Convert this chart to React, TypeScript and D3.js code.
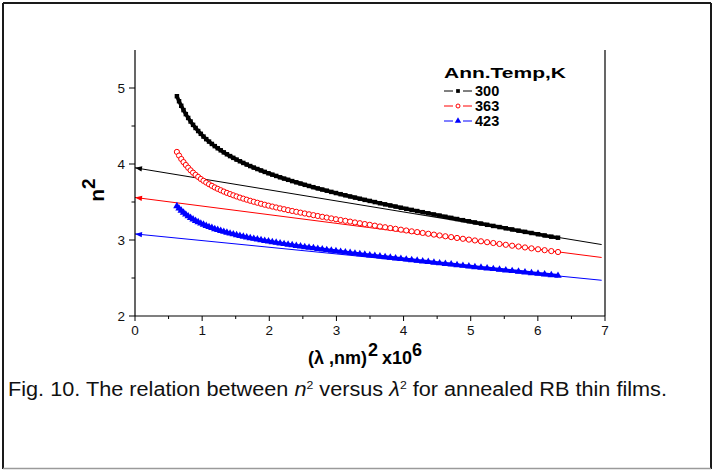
import React, { useEffect } from "react";
import * as d3 from "d3";

// wavelength (nm); x axis is lambda^2 in units of 10^6 nm^2
const wavelengths = [
  790, 810, 830, 850, 870, 890, 910, 930, 950, 970, 990, 1010, 1030, 1050, 1070, 1090, 1110, 1130, 1150, 1170,
  1190, 1210, 1230, 1250, 1270, 1290, 1310, 1330, 1350, 1370, 1390, 1410, 1430, 1450, 1470, 1490, 1510, 1530, 1550, 1570,
  1590, 1610, 1630, 1650, 1670, 1690, 1710, 1730, 1750, 1770, 1790, 1810, 1830, 1850, 1870, 1890, 1910, 1930, 1950, 1970,
  1990, 2010, 2030, 2050, 2070, 2090, 2110, 2130, 2150, 2170, 2190, 2210, 2230, 2250, 2270, 2290, 2310, 2330, 2350, 2370,
  2390, 2410, 2430, 2450, 2470, 2490, 2510,
];

const n2_300 = [
  4.892, 4.826, 4.766, 4.709, 4.656, 4.606, 4.559, 4.515, 4.474, 4.434, 4.397, 4.361, 4.327, 4.295, 4.264, 4.235, 4.207, 4.180, 4.153, 4.128,
  4.104, 4.081, 4.058, 4.036, 4.014, 3.993, 3.973, 3.953, 3.934, 3.915, 3.896, 3.878, 3.860, 3.843, 3.825, 3.808, 3.792, 3.775, 3.759, 3.743,
  3.726, 3.711, 3.695, 3.679, 3.664, 3.649, 3.633, 3.618, 3.603, 3.588, 3.573, 3.558, 3.543, 3.528, 3.514, 3.499, 3.484, 3.469, 3.455, 3.440,
  3.425, 3.410, 3.396, 3.381, 3.366, 3.351, 3.336, 3.321, 3.306, 3.291, 3.276, 3.261, 3.246, 3.231, 3.216, 3.200, 3.185, 3.170, 3.154, 3.139,
  3.123, 3.107, 3.092, 3.076, 3.060, 3.044, 3.030,
];

const n2_363 = [
  4.159, 4.111, 4.066, 4.025, 3.987, 3.951, 3.917, 3.886, 3.857, 3.830, 3.803, 3.779, 3.756, 3.734, 3.713, 3.692, 3.673, 3.655, 3.637, 3.620,
  3.604, 3.588, 3.573, 3.558, 3.544, 3.530, 3.516, 3.503, 3.490, 3.477, 3.464, 3.452, 3.440, 3.428, 3.416, 3.405, 3.393, 3.382, 3.371, 3.360,
  3.349, 3.338, 3.327, 3.316, 3.305, 3.295, 3.284, 3.273, 3.263, 3.252, 3.242, 3.231, 3.221, 3.210, 3.200, 3.189, 3.178, 3.168, 3.157, 3.147,
  3.136, 3.125, 3.114, 3.104, 3.093, 3.082, 3.071, 3.060, 3.049, 3.038, 3.027, 3.016, 3.005, 2.994, 2.983, 2.971, 2.960, 2.948, 2.937, 2.925,
  2.914, 2.902, 2.890, 2.878, 2.866, 2.854, 2.842,
];

const n2_423 = [
  3.446, 3.415, 3.387, 3.361, 3.336, 3.313, 3.292, 3.272, 3.253, 3.235, 3.218, 3.202, 3.187, 3.172, 3.159, 3.145, 3.133, 3.120, 3.109, 3.097,
  3.086, 3.076, 3.065, 3.055, 3.045, 3.036, 3.026, 3.017, 3.008, 2.999, 2.990, 2.982, 2.973, 2.965, 2.957, 2.948, 2.940, 2.932, 2.924, 2.916,
  2.908, 2.901, 2.893, 2.885, 2.877, 2.869, 2.861, 2.854, 2.846, 2.838, 2.830, 2.823, 2.815, 2.807, 2.799, 2.791, 2.784, 2.776, 2.768, 2.760,
  2.752, 2.744, 2.736, 2.728, 2.720, 2.712, 2.703, 2.695, 2.687, 2.679, 2.671, 2.662, 2.653, 2.645, 2.636, 2.628, 2.619, 2.610, 2.602, 2.593,
  2.584, 2.575, 2.566, 2.557, 2.548, 2.539, 2.530,
];

const seriesNames = ["300", "363", "423"];
const seriesColors = ["#000000", "#ff0000", "#0000ff"];
// linear extrapolation lines: value at lambda^2 = 0 and at the right end
const fitIntercepts = [3.95, 3.56, 3.08];
const fitEndValues = [2.94, 2.77, 2.47];
const fitXRange = [0, 6.95];

const xTicks = [0, 1, 2, 3, 4, 5, 6, 7];
const xMinorTicks = [0.5, 1.5, 2.5, 3.5, 4.5, 5.5, 6.5];
const yTicks = [2, 3, 4, 5];
const yMinorTicks = [2.5, 3.5, 4.5];

const FONT = "'Liberation Sans', Arial, sans-serif";

export default function App() {
  useEffect(() => {
    document.body.style.margin = "0";
  }, []);

  const x = d3.scaleLinear().domain([0, 7]).range([135, 605]);
  const y = d3.scaleLinear().domain([2, 5.5]).range([316, 50]);
  const xs = wavelengths.map((l) => (l * l) / 1e6);
  const seriesValues = [n2_300, n2_363, n2_423];

  const line = d3
    .line<number>()
    .x((_, i) => x(xs[i]))
    .y((v) => y(v))
    .curve(d3.curveLinear);

  const sq = d3.symbol().type(d3.symbolSquare).size(20)() as string;
  const tri = d3.symbol().type(d3.symbolTriangle).size(24)() as string;
  const sqLeg = d3.symbol().type(d3.symbolSquare).size(14)() as string;
  const triLeg = d3.symbol().type(d3.symbolTriangle).size(18)() as string;

  const renderMarker = (k: number, cx: number, cy: number, key: string, legend = false) => {
    const c = seriesColors[k];
    if (k === 0)
      return <path key={key} d={legend ? sqLeg : sq} transform={`translate(${cx},${cy})`} fill={c} />;
    if (k === 1)
      return (
        <circle key={key} cx={cx} cy={cy} r={legend ? 2 : 2.6} fill="#fff" stroke={c} strokeWidth={1} />
      );
    return <path key={key} d={legend ? triLeg : tri} transform={`translate(${cx},${cy})`} fill={c} />;
  };

  const legendX = 444;
  const legendY = [91, 106, 121];

  return (
    <svg
      width={716}
      height={470}
      style={{ position: "absolute", left: 0, top: 0, background: "#fff" }}
      fontFamily={FONT}
    >
      <rect x={0} y={0} width={716} height={470} fill="#fff" />
      {/* outer frame */}
      <line x1={3} y1={3} x2={711} y2={3} stroke="#1a1a1a" strokeWidth={2} />
      <line x1={3} y1={3} x2={3} y2={469} stroke="#1a1a1a" strokeWidth={2} />
      <line x1={711} y1={3} x2={711} y2={469} stroke="#1a1a1a" strokeWidth={2} />
      <line x1={3} y1={468.5} x2={711} y2={468.5} stroke="#9a9a9a" strokeWidth={1.5} />

      {/* fit lines with arrows */}
      {fitIntercepts.map((b, k) => {
        const x0 = x(fitXRange[0]);
        const y0 = y(b);
        const x1 = x(fitXRange[1]);
        const y1 = y(fitEndValues[k]);
        const ang = Math.atan2(y1 - y0, x1 - x0);
        const L = 7,
          W = 2.6;
        const p1 = [x0 + L * Math.cos(ang) - W * Math.sin(ang), y0 + L * Math.sin(ang) + W * Math.cos(ang)];
        const p2 = [x0 + L * Math.cos(ang) + W * Math.sin(ang), y0 + L * Math.sin(ang) - W * Math.cos(ang)];
        return (
          <g key={`fit${k}`}>
            <line x1={x0} y1={y0} x2={x1} y2={y1} stroke={seriesColors[k]} strokeWidth={1} />
            <path d={`M${x0},${y0}L${p1[0]},${p1[1]}L${p2[0]},${p2[1]}Z`} fill={seriesColors[k]} />
          </g>
        );
      })}

      {/* data series */}
      {seriesValues.map((vals, k) => (
        <g key={`s${k}`}>
          <path
            d={line(vals) as string}
            fill="none"
            stroke={seriesColors[k]}
            strokeWidth={k === 1 ? 1 : 3.6}
            strokeLinejoin="round"
          />
          {vals.map((v, i) => renderMarker(k, x(xs[i]), y(v), `m${k}-${i}`))}
        </g>
      ))}

      {/* axes */}
      <line x1={x(0)} y1={y(2)} x2={x(7)} y2={y(2)} stroke="#000" strokeWidth={1.2} />
      <line x1={x(0)} y1={y(2)} x2={x(0)} y2={y(5.5)} stroke="#000" strokeWidth={1.2} />
      <line x1={x(7)} y1={y(2)} x2={x(7)} y2={y(5.5)} stroke="#000" strokeWidth={1.2} />
      {xTicks.map((t) => (
        <g key={`xt${t}`}>
          <line x1={x(t)} y1={y(2)} x2={x(t)} y2={y(2) + 5} stroke="#000" strokeWidth={1} />
          <text x={x(t)} y={y(2) + 19} textAnchor="middle" fontSize={13.5} fill="#111">
            {t}
          </text>
        </g>
      ))}
      {xMinorTicks.map((t) => (
        <line key={`xm${t}`} x1={x(t)} y1={y(2)} x2={x(t)} y2={y(2) + 3} stroke="#000" strokeWidth={1} />
      ))}
      {yTicks.map((t) => (
        <g key={`yt${t}`}>
          <line x1={x(0) - 6} y1={y(t)} x2={x(0)} y2={y(t)} stroke="#000" strokeWidth={1} />
          <text x={x(0) - 10} y={y(t) + 5} textAnchor="end" fontSize={13.5} fill="#111">
            {t}
          </text>
        </g>
      ))}
      {yMinorTicks.map((t) => (
        <line key={`ym${t}`} x1={x(0) - 3.5} y1={y(t)} x2={x(0)} y2={y(t)} stroke="#000" strokeWidth={1} />
      ))}

      {/* axis titles */}
      <text transform="translate(104,190) rotate(-90)" textAnchor="middle" fontWeight="bold" fontSize={21}>
        n<tspan dy={-9} fontSize={19}>2</tspan>
      </text>
      <text x={308} y={364} fontWeight="bold" fontSize={18}>
        (λ ,nm)<tspan dx={1} dy={-8}>2</tspan>
        <tspan dx={4} dy={8}>x10</tspan>
        <tspan dy={-8}>6</tspan>
      </text>

      {/* legend */}
      <text x={legendX} y={78} fontWeight="bold" fontSize={15.5} textLength={122} lengthAdjust="spacingAndGlyphs">
        Ann.Temp,K
      </text>
      {seriesNames.map((name, k) => (
        <g key={`lg${k}`}>
          <line x1={legendX} y1={legendY[k]} x2={legendX + 9} y2={legendY[k]} stroke={seriesColors[k]} strokeWidth={1} />
          <line x1={legendX + 19} y1={legendY[k]} x2={legendX + 28} y2={legendY[k]} stroke={seriesColors[k]} strokeWidth={1} />
          {renderMarker(k, legendX + 14, legendY[k], `lm${k}`, true)}
          <text x={legendX + 31} y={legendY[k] + 5} fontWeight="bold" fontSize={14.5}>
            {name}
          </text>
        </g>
      ))}

      {/* caption */}
      <text
        x={8}
        y={396}
        fontSize={19.5}
        fontFamily="'Liberation Sans Narrow', 'Arial Narrow', 'Liberation Sans', sans-serif"
        textLength={659}
        lengthAdjust="spacingAndGlyphs"
        fill="#111"
      >
        Fig. 10. The relation between <tspan fontStyle="italic">n</tspan>
        <tspan dy={-7} fontSize={11}>2</tspan>
        <tspan dy={7}> versus </tspan>
        <tspan fontStyle="italic">λ</tspan>
        <tspan dy={-7} fontSize={11}>2</tspan>
        <tspan dy={7}> for annealed RB thin films.</tspan>
      </text>
    </svg>
  );
}
